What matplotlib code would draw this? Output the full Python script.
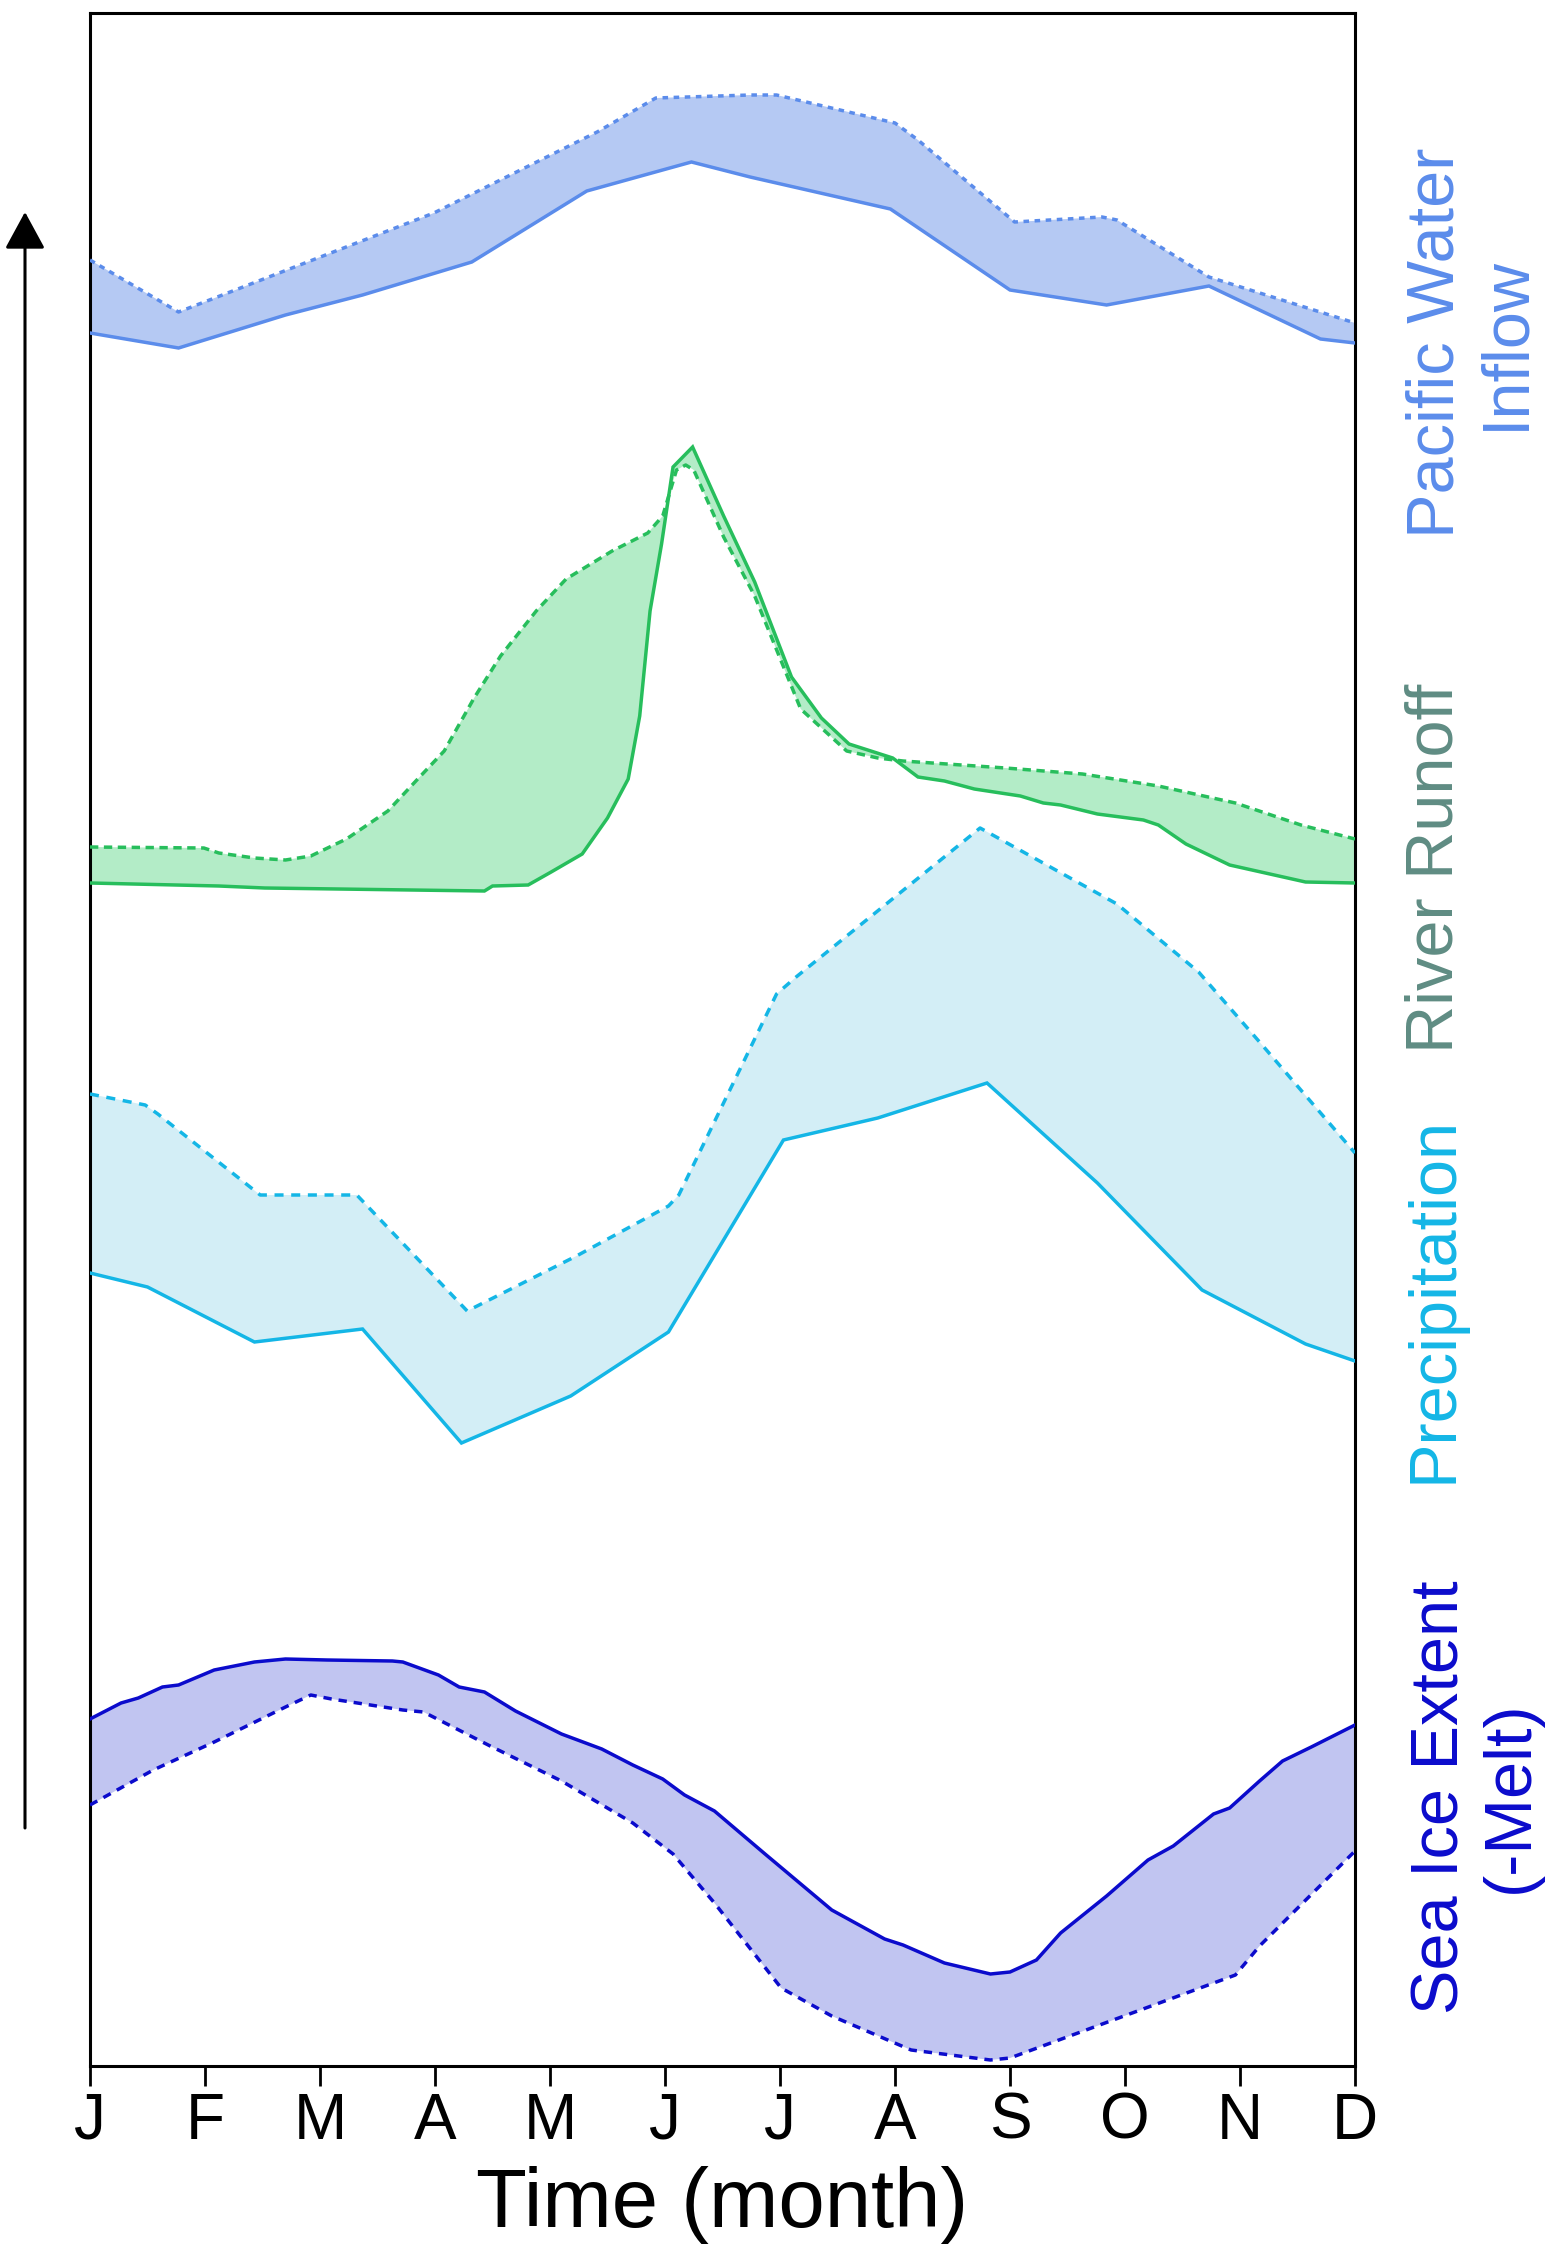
import matplotlib
matplotlib.use("Agg")
import matplotlib.pyplot as plt
from matplotlib.patches import FancyArrowPatch
from matplotlib import font_manager
import numpy as np

plt.rcParams['font.family'] = ['Liberation Sans', 'DejaVu Sans']

# ---------------- data (x in months: 0=Jan ... 11=Dec; y in arbitrary stacked units) -------------
months = ["J", "F", "M", "A", "M", "J", "J", "A", "S", "O", "N", "D"]

pac_solid_x = [0, 0.77, 1.70, 2.37, 3.32, 4.32, 5.23, 5.74, 6.96, 8.00, 8.84, 9.73, 10.70, 11.0]
pac_solid_y = [1733, 1718, 1751, 1771, 1804, 1875, 1904, 1889, 1857, 1776, 1761, 1780, 1727, 1723]
pac_dash_x = [0, 0.77, 2.99, 4.41, 4.92, 5.74, 5.97, 7.00, 7.20, 8.04, 8.80, 8.93, 9.73, 11.0]
pac_dash_y = [1806, 1754, 1853, 1934, 1968, 1971, 1971, 1943, 1926, 1844, 1849, 1846, 1789, 1743]

riv_solid_x = [0, 1.12, 1.52, 3.43, 3.50, 3.81, 4.01, 4.28, 4.50, 4.68, 4.78, 4.87, 4.97, 5.07,
               5.24, 5.51, 5.78, 6.10, 6.36, 6.60, 6.98, 7.20, 7.43, 7.69, 8.09, 8.29, 8.44,
               8.76, 9.16, 9.29, 9.53, 9.91, 10.57, 11.0]
riv_solid_y = [1183, 1180, 1178, 1175, 1180, 1181, 1194, 1212, 1248, 1287, 1350, 1455, 1522, 1599,
               1619, 1550, 1484, 1389, 1348, 1322, 1308, 1289, 1285, 1277, 1270, 1263, 1261,
               1252, 1246, 1241, 1222, 1201, 1184, 1183]
riv_dash_x = [0, 0.99, 1.12, 1.43, 1.70, 1.92, 2.23, 2.59, 2.85, 3.08, 3.34, 3.57, 3.88, 4.14,
              4.54, 4.85, 4.98, 5.10, 5.18, 5.25, 5.51, 5.78, 6.18, 6.58, 6.85, 7.07, 7.96,
              8.63, 9.29, 9.96, 10.53, 11.0]
riv_dash_y = [1219, 1218, 1213, 1208, 1206, 1210, 1227, 1255, 1287, 1315, 1368, 1410, 1455, 1487,
              1515, 1533, 1550, 1596, 1601, 1596, 1529, 1470, 1357, 1315, 1308, 1305, 1298,
              1292, 1280, 1263, 1241, 1227]

pre_solid_x = [0, 0.50, 1.43, 2.37, 3.23, 4.18, 5.03, 6.03, 6.85, 7.80, 8.76, 9.67, 10.57, 11.0]
pre_solid_y = [793, 779, 724, 737, 623, 670, 734, 926, 948, 983, 883, 776, 722, 705]
pre_dash_x = [0, 0.48, 0.59, 1.48, 2.32, 3.28, 4.23, 5.03, 5.12, 5.97, 6.14, 7.74, 8.93, 9.64,
              10.17, 11.0]
pre_dash_y = [972, 961, 952, 871, 871, 755, 810, 860, 871, 1072, 1089, 1238, 1162, 1094,
              1024, 913]

ice_solid_x = [0, 0.27, 0.42, 0.63, 0.77, 1.08, 1.43, 1.70, 2.06, 2.63, 2.72, 3.03, 3.21, 3.43,
               3.70, 4.10, 4.45, 4.72, 4.98, 5.17, 5.43, 5.87, 6.45, 6.91, 7.07, 7.43, 7.83,
               8.00, 8.23, 8.44, 8.84, 9.20, 9.42, 9.77, 9.91, 10.17, 10.37, 10.62, 11.0]
ice_solid_y = [347, 363, 368, 379, 381, 396, 404, 407, 406, 405, 404, 391, 379, 374,
               355, 332, 317, 301, 287, 271, 255, 212, 156, 127, 121, 103, 92,
               94, 106, 133, 170, 206, 220, 252, 258, 285, 305, 319, 341]
ice_dash_x = [0, 0.55, 1.08, 1.70, 1.92, 2.10, 2.72, 2.90, 3.48, 4.10, 4.72, 5.07, 5.43, 6.01,
              6.45, 7.14, 7.83, 8.00, 9.96, 10.17, 11.0]
ice_dash_y = [261, 296, 324, 359, 371, 367, 356, 354, 320, 285, 243, 212, 163, 78,
              50, 16, 6, 8, 91, 120, 215]

series = [
    # solid x, solid y, dashed x, dashed y, line color, fill color, dash pattern
    (pac_solid_x, pac_solid_y, pac_dash_x, pac_dash_y, "#5B8CEB", "#B5C9F3", (1.6, 1.6)),
    (riv_solid_x, riv_solid_y, riv_dash_x, riv_dash_y, "#27BE5C", "#B3ECC7", (2.4, 1.6)),
    (pre_solid_x, pre_solid_y, pre_dash_x, pre_dash_y, "#14B6E6", "#D3EEF6", (2.6, 2.2)),
    (ice_solid_x, ice_solid_y, ice_dash_x, ice_dash_y, "#0B0BCC", "#C1C5F1", (2.4, 2.0)),
]

labels = [
    ("Pacific Water\nInflow", "#5B8CEB", 0.9480, 0.8486),
    ("River Runoff", "#5F8C83", 0.9250, 0.6168),
    ("Precipitation", "#14B6E6", 0.9245, 0.4261),
    ("Sea Ice Extent\n(-Melt)", "#0B0BCC", 0.9510, 0.2066),
]

# condensed face for tick letters when available
names = {f.name for f in font_manager.fontManager.ttflist}
tick_family = ['Liberation Sans Narrow'] if 'Liberation Sans Narrow' in names else ['Liberation Sans']
tick_size = 50 if 'Liberation Sans Narrow' in names else 46

# ---------------- figure ----------------
fig = plt.figure(figsize=(15.52, 22.65), dpi=100)
ax = fig.add_axes([90 / 1552, 1 - 2066 / 2265, (1355 - 90) / 1552, (2066 - 13) / 2265])

for sx, sy, dx, dy, lc, fc, dash in series:
    px = np.concatenate([sx, dx[::-1]])
    py = np.concatenate([sy, dy[::-1]])
    ax.fill(px, py, color=fc, lw=0, zorder=1)
    ax.plot(sx, sy, color=lc, lw=2.5, solid_joinstyle='miter', zorder=3)
    ax.plot(dx, dy, color=lc, lw=2.5, dashes=dash, zorder=3)

ax.set_xlim(0, 11)
ax.set_ylim(0, 2053)
ax.set_xticks(range(12))
ax.set_xticklabels(months, fontsize=tick_size, family=tick_family)
ax.set_yticks([])
ax.tick_params(axis='x', direction='out', length=14.5, width=2.0, pad=4, color='black')
for sp in ax.spines.values():
    sp.set_linewidth(2.2)
    sp.set_color('black')
ax.set_xlabel("Time (month)", fontsize=60, labelpad=10)

for text, color, fx, fy in labels:
    fig.text(fx, fy, text, rotation=90, ha='center', va='center', fontsize=48,
             color=color, multialignment='center', linespacing=1.15)

arrow = FancyArrowPatch((25 / 1552, 1 - 1828 / 2265), (25 / 1552, 1 - 212 / 2265),
                        transform=fig.transFigure, arrowstyle='-|>,head_length=2.3,head_width=1.25',
                        mutation_scale=10, lw=2.2, color='black', shrinkA=0, shrinkB=0)
fig.add_artist(arrow)

fig.savefig("out.png", dpi=100, facecolor='white')
